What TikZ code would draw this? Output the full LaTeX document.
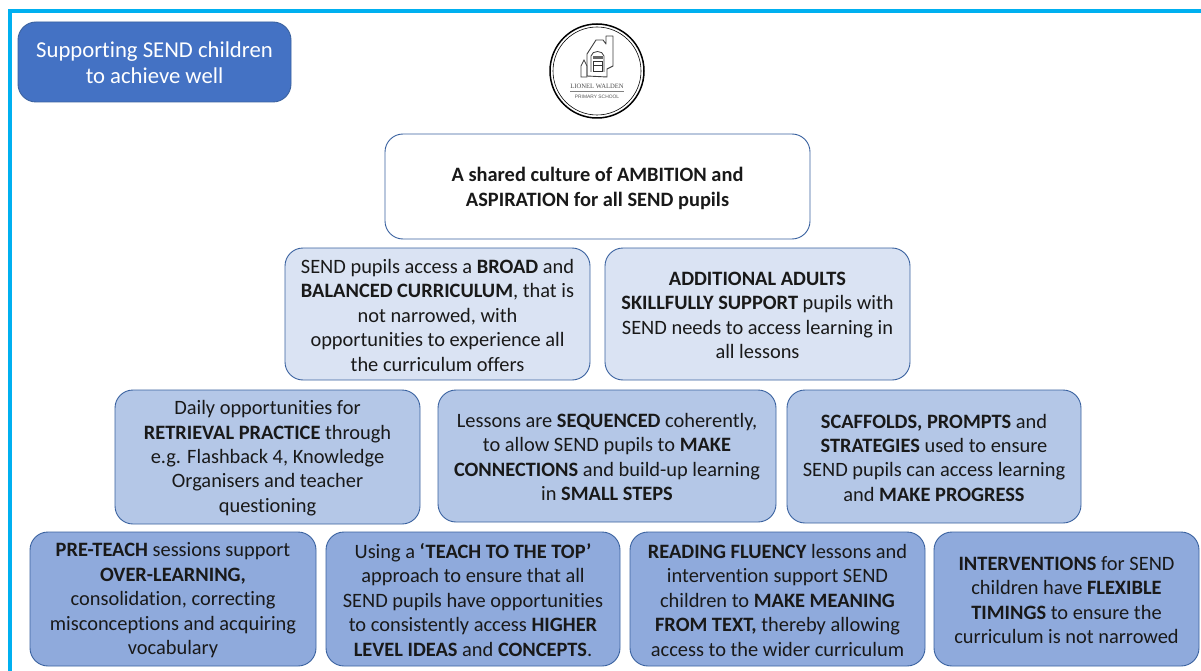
\documentclass[tikz,border=0pt]{standalone}
\usepackage{fontspec}
\setmainfont[Ligatures=NoCommon]{Carlito}
\newfontfamily\logofont{Liberation Serif}
\newfontfamily\logosans{Liberation Sans}
\definecolor{frameblue}{HTML}{00B0F0}
\definecolor{edgeblue}{HTML}{3A62A0}
\definecolor{titlefill}{HTML}{4472C4}
\definecolor{lightfill}{HTML}{DAE3F3}
\definecolor{midfill}{HTML}{B4C7E7}
\definecolor{deepfill}{HTML}{8FAADC}
\tikzset{
  x=1pt,y=-1pt,
  panel/.style={draw=edgeblue,line width=0.9pt,rounded corners=18pt,align=center,inner sep=0pt,
    font=\fontsize{20.4}{24.45}\selectfont,text=black!90},
  titlepanel/.style={panel,text=white,font=\fontsize{22.7}{26}\selectfont},
}
\newcommand{\panelat}[8][panel]{% style, name, x0,y0,x1,y1, fill, text
  \node[#1,fill=#7,minimum width=#5pt-#3pt,minimum height=#6pt-#4pt] (#2) at ({(#3+#5)/2},{(#4+#6)/2}) {\rule{0pt}{16.5pt}#8};}
\begin{document}
\begin{tikzpicture}
\useasboundingbox (0,0) rectangle (1201,671);
\fill[white] (0,0) rectangle (1201,671);
\draw[frameblue,line width=3.6pt] (10,671) -- (10,11) -- (1201,11);
\panelat[titlepanel]{title}{18}{22}{291}{102}{titlefill}{Supporting SEND children\\to achieve well}
\panelat{top}{385}{134}{810}{239}{white}{\rule{0pt}{18.5pt}\textbf{A shared culture of AMBITION and}\\\textbf{ASPIRATION for all SEND pupils}}
\panelat{a1}{285}{248}{590}{380}{lightfill}{SEND pupils access a \textbf{BROAD} and\\\textbf{BALANCED CURRICULUM}, that is\\not narrowed, with\\opportunities to experience all\\the curriculum offers}
\panelat{a2}{605}{248}{910}{380}{lightfill}{\textbf{ADDITIONAL ADULTS}\\\textbf{SKILLFULLY SUPPORT} pupils with\\SEND needs to access learning in\\all lessons}
\panelat{b1}{115}{390}{420}{524}{midfill}{Daily opportunities for\\\textbf{RETRIEVAL PRACTICE} through\\e.g. Flashback 4, Knowledge\\Organisers and teacher\\questioning}
\panelat{b2}{438}{390}{776}{522}{midfill}{Lessons are \textbf{SEQUENCED} coherently,\\to allow SEND pupils to \textbf{MAKE}\\\textbf{CONNECTIONS} and build-up learning\\in \textbf{SMALL STEPS}}
\panelat{b3}{787}{390}{1081}{523}{midfill}{\textbf{SCAFFOLDS, PROMPTS} and\\\textbf{STRATEGIES} used to ensure\\SEND pupils can access learning\\and \textbf{MAKE PROGRESS}}
\panelat{c1}{30}{532}{316}{666}{deepfill}{\textbf{PRE-TEACH} sessions support\\\textbf{OVER-LEARNING,}\\consolidation, correcting\\misconceptions and acquiring\\vocabulary}
\panelat{c2}{326}{532}{620}{666}{deepfill}{Using a \textbf{‘TEACH TO THE TOP’}\\approach to ensure that all\\SEND pupils have opportunities\\to consistently access \textbf{HIGHER}\\\textbf{LEVEL IDEAS} and \textbf{CONCEPTS}.}
\panelat{c3}{630}{532}{925}{666}{deepfill}{\textbf{READING FLUENCY} lessons and\\intervention support SEND\\children to \textbf{MAKE MEANING}\\\textbf{FROM TEXT,} thereby allowing\\access to the wider curriculum}
\panelat{c4}{934}{532}{1199}{666}{deepfill}{\textbf{INTERVENTIONS} for SEND\\children have \textbf{FLEXIBLE}\\\textbf{TIMINGS} to ensure the\\curriculum is not narrowed}
% logo
\draw[black,line width=1.5pt] (597,71) circle (47);
\draw[black,line width=0.6pt] (597,71) circle (44);
\draw[black!75,line width=0.9pt,line join=round] (587,76) -- (587,54) -- (596,40) -- (603,40) -- (606,44) -- (606,36) -- (613,36) -- (613,66) -- (607,69) -- (607,77) -- cycle;
\draw[black!75,line width=0.8pt] (591,72) -- (591,56) .. controls (592,50) and (603,50) .. (604,56) -- (604,72);
\fill[black!60] (593,56) rectangle (603,59);
\draw[black!80,line width=0.8pt] (593,61) rectangle (602,71);
\draw[black!80,line width=0.7pt] (593,65) -- (602,65);
\draw[black!75,line width=0.8pt] (581,77) -- (581,66) -- (584,60) -- (587,66) -- (587,77) -- cycle;
\node[inner sep=0pt,font=\logofont\fontsize{6.6}{7}\selectfont,text=black!70] (logoname) at (597,86) {LIONEL WALDEN};
\draw[black!50,line width=0.7pt] (570,91) -- (624,91);
\node[inner sep=0pt,font=\logosans\fontsize{4.9}{5}\selectfont,text=black!65] (logoschool) at (597,96.5) {PRIMARY SCHOOL};
\end{tikzpicture}
\end{document}
